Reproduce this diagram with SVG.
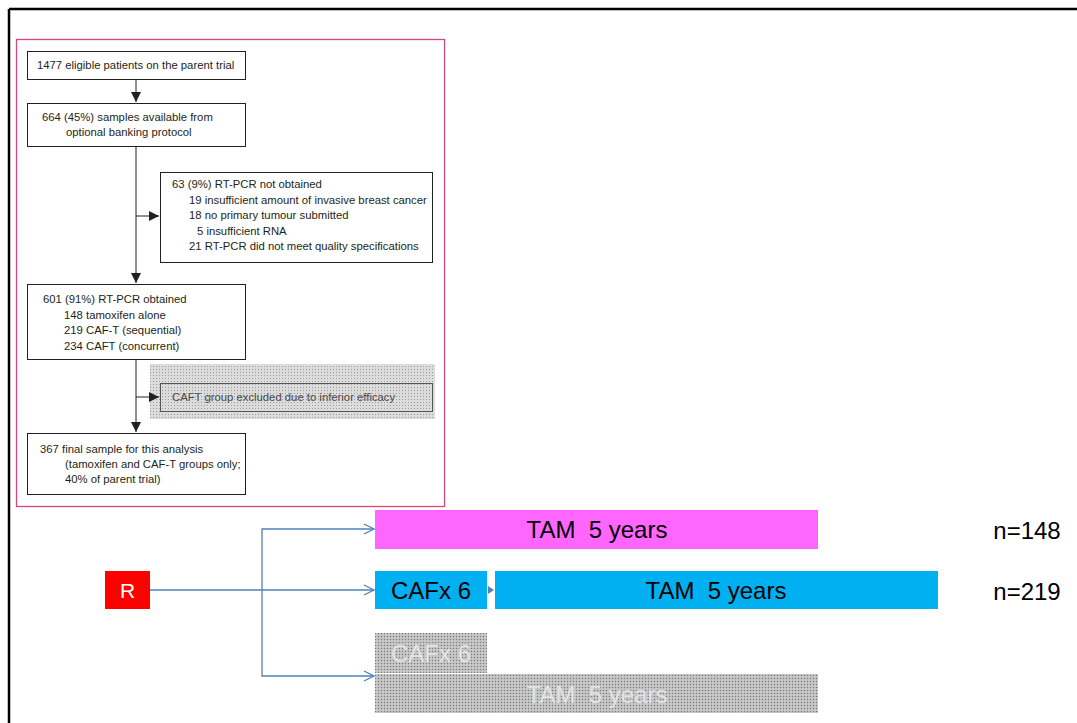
<svg xmlns="http://www.w3.org/2000/svg" width="1077" height="723" viewBox="0 0 1077 723">
<style>
.fc{font-family:"Liberation Sans",Arial,sans-serif;font-size:11.3px;fill:#231f20}
.box{fill:#fff;stroke:#231f20;stroke-width:1}
.fl{stroke:#231f20;stroke-width:1;fill:none}
.bl{stroke:#4f81bd;stroke-width:1.3;fill:none}
.big{font-family:"Liberation Sans",Arial,sans-serif;font-size:24px;fill:#000}
.ghost{font-family:"Liberation Sans",Arial,sans-serif;font-size:24px;fill:#e3e3e3}
</style>
<defs>
<marker id="ah" viewBox="0 0 10 10" refX="10" refY="5" markerWidth="10" markerHeight="10" markerUnits="userSpaceOnUse" orient="auto">
<path d="M0,0 L10,5 L0,10 z" fill="#231f20"/>
</marker>
<marker id="bh" viewBox="0 0 12 12" refX="11" refY="6" markerWidth="12" markerHeight="12" markerUnits="userSpaceOnUse" orient="auto">
<path d="M1,1 L11,6 L1,11" fill="none" stroke="#4f81bd" stroke-width="1.3"/>
</marker>
<pattern id="dots" width="3" height="3" patternUnits="userSpaceOnUse">
<rect width="3" height="3" fill="#bdbdbd"/>
<rect width="1" height="1" fill="#7a7a7a"/>
<rect x="1.5" y="1.5" width="1" height="1" fill="#e8e8e8"/>
</pattern>
<pattern id="dotsl" width="3" height="3" patternUnits="userSpaceOnUse">
<rect width="3" height="3" fill="#dcdcdc"/>
<rect width="1" height="1" fill="#9c9c9c"/>
</pattern>
</defs>
<rect width="1077" height="723" fill="#fff"/>
<g id="frame">
<line x1="9" y1="9" x2="1077" y2="9" stroke="#000" stroke-width="2.5"/>
<line x1="9" y1="9" x2="9" y2="723" stroke="#000" stroke-width="2.5"/>
<rect x="16.5" y="39.5" width="428" height="467" fill="none" stroke="#d6477e" stroke-width="1.3"/>
</g>
<g id="n1">
<rect class="box" x="27.5" y="51.5" width="218" height="28"/>
<text class="fc" x="37" y="69">1477 eligible patients on the parent trial</text>
</g>
<g id="n2">
<rect class="box" x="27.5" y="103.5" width="218" height="43"/>
<text class="fc" x="42" y="121">664 (45%) samples available from</text>
<text class="fc" x="66" y="136">optional banking protocol</text>
</g>
<g id="n3">
<rect class="box" x="160.5" y="172.5" width="272" height="90"/>
<text class="fc" x="172" y="188">63 (9%) RT-PCR not obtained</text>
<text class="fc" x="189" y="204">19 insufficient amount of invasive breast cancer</text>
<text class="fc" x="189" y="219">18 no primary tumour submitted</text>
<text class="fc" x="197" y="235">5 insufficient RNA</text>
<text class="fc" x="189" y="250">21 RT-PCR did not meet quality specifications</text>
</g>
<g id="n4">
<rect class="box" x="27.5" y="284.5" width="218" height="75"/>
<text class="fc" x="43" y="303">601 (91%) RT-PCR obtained</text>
<text class="fc" x="64" y="319">148 tamoxifen alone</text>
<text class="fc" x="64" y="334">219 CAF-T (sequential)</text>
<text class="fc" x="64" y="350">234 CAFT (concurrent)</text>
</g>
<g id="n5">
<rect x="150" y="364" width="285" height="55" fill="url(#dotsl)"/>
<rect x="160.5" y="383.5" width="272" height="28" fill="none" stroke="#555" stroke-width="1"/>
<text class="fc" x="172" y="401" style="fill:#4a4a4a">CAFT group excluded due to inferior efficacy</text>
</g>
<g id="n6">
<rect class="box" x="27.5" y="433.5" width="218" height="61"/>
<text class="fc" x="40" y="453">367 final sample for this analysis</text>
<text class="fc" x="65" y="468">(tamoxifen and CAF-T groups only;</text>
<text class="fc" x="65" y="483">40% of parent trial)</text>
</g>
<g id="R">
<rect x="105" y="571" width="45" height="38" fill="#ff0000"/>
<text x="127.5" y="598" text-anchor="middle" font-family="Liberation Sans, Arial, sans-serif" font-size="21" fill="#fff">R</text>
</g>
<g id="tam1">
<rect x="375" y="510" width="443" height="39" fill="#ff66ff"/>
<text class="big" x="597" y="538" text-anchor="middle" xml:space="preserve">TAM  5 years</text>
</g>
<g id="caf">
<rect x="375" y="571" width="112" height="38" fill="#00b0f0"/>
<text class="big" x="431" y="599" text-anchor="middle">CAFx 6</text>
</g>
<g id="tam2">
<rect x="495" y="571" width="443" height="38" fill="#00b0f0"/>
<text class="big" x="716" y="599" text-anchor="middle" xml:space="preserve">TAM  5 years</text>
</g>
<g id="cafg">
<rect x="375" y="633" width="112" height="40" fill="url(#dots)"/>
<text class="ghost" x="431" y="662" text-anchor="middle">CAFx 6</text>
</g>
<g id="tamg">
<rect x="375" y="674" width="443" height="39" fill="url(#dots)"/>
<text class="ghost" x="597" y="703" text-anchor="middle" xml:space="preserve">TAM  5 years</text>
</g>
<g id="n148"><text class="big" x="1027" y="539" text-anchor="middle">n=148</text></g>
<g id="n219"><text class="big" x="1027" y="600" text-anchor="middle">n=219</text></g>
<g id="connectors">
<line class="fl" x1="136" y1="79" x2="136" y2="102" marker-end="url(#ah)"/>
<line class="fl" x1="136" y1="146" x2="136" y2="283" marker-end="url(#ah)"/>
<line class="fl" x1="136" y1="216" x2="159" y2="216" marker-end="url(#ah)"/>
<line class="fl" x1="136" y1="360" x2="136" y2="432" marker-end="url(#ah)"/>
<line class="fl" x1="136" y1="397" x2="159" y2="397" marker-end="url(#ah)"/>
<polyline class="bl" points="150,590 374,590" marker-end="url(#bh)"/>
<polyline class="bl" points="262,590 262,529 374,529" marker-end="url(#bh)"/>
<polyline class="bl" points="262,590 262,676 374,676" marker-end="url(#bh)"/>
<path d="M488,586 L494,590 L488,594 z" fill="#4f81bd"/>
</g>
</svg>
